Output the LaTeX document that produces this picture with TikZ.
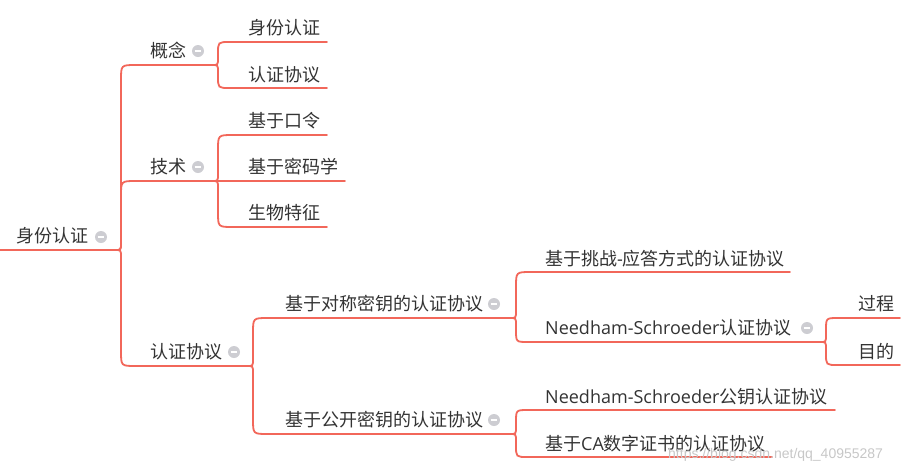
\documentclass[tikz,border=0pt]{standalone}
\usepackage{fontspec}
\setmainfont{Noto Sans CJK SC}
\newfontfamily\lat{Open Sans}
\newfontfamily\wmfont{Liberation Sans}
\usetikzlibrary{calc}
\definecolor{linec}{RGB}{242,103,90}
\definecolor{textc}{RGB}{51,51,51}
\definecolor{iconfill}{RGB}{205,205,210}
\tikzset{
  lbl/.style={anchor=west, inner sep=0pt, text=textc, font=\fontsize{18}{21}\selectfont},
  uline/.style={draw=linec, line width=1.8pt},
  icon/.style={circle, fill=iconfill, minimum size=12pt, inner sep=0pt,
    path picture={\draw[white, line width=1.8pt]
      ([xshift=-3.3pt]path picture bounding box.center) -- ([xshift=3.3pt]path picture bounding box.center);}},
  br/.style={to path={let \p1=(\tikztostart), \p2=(\tikztotarget),
     \n1={sign((\y2)-(\y1))}, \n2={min(7,abs((\y2)-(\y1))/2)}, \n3={min(15,abs((\y2)-(\y1))/2)} in
     .. controls (\x1+6pt,\y1) .. (\x1+6pt,\y1+\n1*\n2*1pt)
     -- (\x1+6pt,\y2-\n1*\n3*1pt)
     .. controls (\x1+6pt,\y2) .. (\x1+6pt+\n3*1pt,\y2) -- (\tikztotarget)}},
}
\begin{document}
\begin{tikzpicture}[x=1pt,y=-1pt]
\useasboundingbox (0,0) rectangle (922,475);
% underline coordinates
\coordinate (r1) at (0,250);   \coordinate (r2) at (115,250);
\coordinate (a1) at (140,65);  \coordinate (a2) at (212,65);
\coordinate (b1) at (140,181); \coordinate (b2) at (212,181);
\coordinate (c1) at (140,366); \coordinate (c2) at (247,366);
\coordinate (a11) at (235,42);  \coordinate (a12) at (327,42);
\coordinate (a21) at (235,88);  \coordinate (a22) at (327,88);
\coordinate (b11) at (235,135); \coordinate (b12) at (327,135);
\coordinate (b21) at (235,181); \coordinate (b22) at (345,181);
\coordinate (b31) at (235,227); \coordinate (b32) at (327,227);
\coordinate (c11) at (270,318); \coordinate (c12) at (510,318);
\coordinate (c21) at (270,434); \coordinate (c22) at (510,434);
\coordinate (d11) at (535,272); \coordinate (d12) at (790,272);
\coordinate (d21) at (535,342); \coordinate (d22) at (820,342);
\coordinate (e11) at (845,318); \coordinate (e12) at (900,318);
\coordinate (e21) at (845,365); \coordinate (e22) at (900,365);
\coordinate (f11) at (535,410); \coordinate (f12) at (835,410);
\coordinate (f21) at (535,457); \coordinate (f22) at (772,457);
% underlines
\foreach \u in {r,a,b,c,a1,a2,b1,b2,b3,c1,c2,d1,d2,e1,e2,f1,f2}
  \draw[uline, line cap=round] (\u1) -- (\u2);
% connectors
\foreach \p/\c in {r2/a1, r2/b1, r2/c1, a2/a11, a2/a21, b2/b11, b2/b21, b2/b31,
                   c2/c11, c2/c21, c12/d11, c12/d21, d22/e11, d22/e21, c22/f11, c22/f21}
  \draw[uline] (\p) to[br] (\c);
% labels
\node[lbl] (root) at (16,236) {身份认证};
\node[icon] (ir) at (101,237) {};
\node[lbl] (gn) at (150,51) {概念};
\node[icon] (ign) at (198,51) {};
\node[lbl] (js) at (150,167) {技术};
\node[icon] (ijs) at (198,167) {};
\node[lbl] (xy) at (150,352) {认证协议};
\node[icon] (ixy) at (234,352) {};
\node[lbl] (sf) at (248,28) {身份认证};
\node[lbl] (rz) at (248,75) {认证协议};
\node[lbl] (kl) at (248,121) {基于口令};
\node[lbl] (mm) at (248,167) {基于密码学};
\node[lbl] (sw) at (248,213) {生物特征};
\node[lbl] (dc) at (285,304) {基于对称密钥的认证协议};
\node[icon] (idc) at (494,304) {};
\node[lbl] (gk) at (285,420) {基于公开密钥的认证协议};
\node[icon] (igk) at (494,420) {};
\node[lbl] (tz) at (545,259) {基于挑战{\lat -}应答方式的认证协议};
\node[lbl] (ns) at (545,328) {{\lat Needham-Schroeder}认证协议};
\node[icon] (ins) at (807,328) {};
\node[lbl] (gc) at (858,304) {过程};
\node[lbl] (md) at (858,352) {目的};
\node[lbl] (nsg) at (545,397) {{\lat Needham-Schroeder}公钥认证协议};
\node[lbl] (ca) at (545,444) {基于{\lat CA}数字证书的认证协议};
\node[anchor=west, inner sep=0pt, text=black!22, font=\wmfont\fontsize{14}{16}\selectfont] (wm) at (668,455) {https://blog.csdn.net/qq\_40955287};
\end{tikzpicture}
\end{document}
